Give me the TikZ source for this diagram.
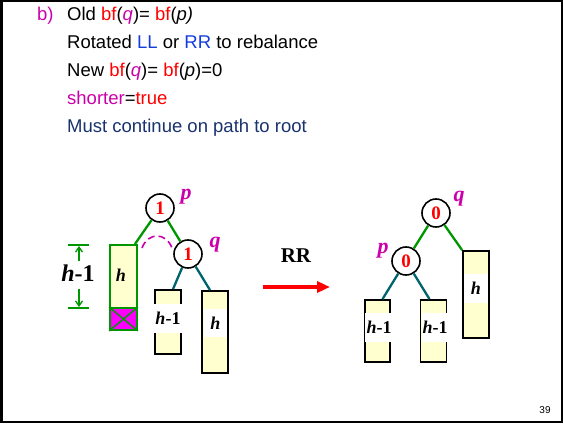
\documentclass[tikz,border=0pt]{standalone}
\usepackage{fontspec}
\setmainfont{Liberation Sans}
\newfontfamily\tms{Liberation Serif}
\usetikzlibrary{arrows.meta}
\definecolor{mag}{RGB}{204,0,170}
\definecolor{lblue}{RGB}{20,60,220}
\definecolor{navy}{RGB}{25,50,110}
\definecolor{grn}{RGB}{0,150,0}
\definecolor{teal2}{RGB}{0,100,110}
\definecolor{ylw}{RGB}{255,255,208}
\definecolor{brmag}{RGB}{255,0,255}
\begin{document}
\begin{tikzpicture}[x=1pt,y=-1pt,
  txt/.style={anchor=base west,inner sep=0,font=\fontsize{18.5}{22}\selectfont},
  circ/.style={circle,draw,line width=1.6pt,minimum size=28,inner sep=0,fill=white,text=red,font=\tms\bfseries\fontsize{19}{19}\selectfont},
  plab/.style={text=mag,inner sep=0,font=\tms\bfseries\itshape\fontsize{22}{22}\selectfont},
  tbox/.style={draw,line width=1.8pt,fill=ylw,inner sep=0},
  band/.style={fill=white,inner sep=0,font=\tms\bfseries\fontsize{18}{18}\selectfont},
  gedge/.style={draw=grn,line width=2.3pt},
  tedge/.style={draw=teal2,line width=2.3pt}]
\useasboundingbox (0,0) rectangle (563,425);
\draw[line width=2.5pt] (1.3,1.2) rectangle (562,422);
% text lines
\node[txt,text=mag] (tb) at (37,21) {b)};
\node[txt] (t1) at (67,21) {Old \textcolor{red}{bf}(\textcolor{mag}{\itshape q})= \textcolor{red}{bf}(\itshape p)};
\node[txt] (t2) at (67,49) {Rotated \textcolor{lblue}{LL} or \textcolor{lblue}{RR} to rebalance};
\node[txt] (t3) at (67,77) {New \textcolor{red}{bf}(\textcolor{mag}{\itshape q})= \textcolor{red}{bf}(\textit{p})=0};
\node[txt] (t4) at (67,105) {\textcolor{mag}{shorter}=\textcolor{red}{true}};
\node[txt,text=navy] (t5) at (67,133) {Must continue on path to root};
% left tree
\node[tbox,draw=grn,minimum width=27,minimum height=85] (L) at (123.5,287.5) {};
\node[tbox,draw=grn,fill=brmag,minimum width=27,minimum height=22] (Lx) at (123.5,319) {};
\draw[grn,line width=1.4pt] (Lx.north west) -- (Lx.south east) (Lx.north east) -- (Lx.south west);
\node[band,fill=none] (Lh) at (121,275) {\itshape h};
\node[tbox,minimum width=26,minimum height=64] (M) at (168,322) {};
\node[band,minimum width=31,minimum height=29] (Mh) at (168,318) {\textit{h}-1};
\node[tbox,minimum width=26,minimum height=82] (R) at (215,332) {};
\node[band,minimum width=23,minimum height=28] (Rh) at (215.5,323) {\itshape h};
\node[circ] (p1) at (160,208) {1};
\node[circ] (q1) at (188,254) {1};
\node[plab] (p1l) at (186,197) {p};
\node[plab] (q1l) at (215,245) {q};
\path[gedge] (p1) -- ([xshift=-3]L.north east);
\path[gedge] (p1) -- (q1);
\path[tedge] (q1) -- ([xshift=5]M.north);
\path[tedge] (q1) -- ([xshift=-5]R.north);
\coordinate (da) at (142,248);
\coordinate (db) at (172,248);
\draw[mag,line width=1.6pt,dash pattern=on 7pt off 4pt] (da) .. controls (148,232) and (166,232) .. (db);
% height marker
\coordinate (ht1) at (68,245); \coordinate (ht2) at (89,245);
\coordinate (hb1) at (68,308); \coordinate (hb2) at (89,308);
\draw[grn,line width=2pt] (ht1) -- (ht2) (hb1) -- (hb2);
\node[inner sep=0,font=\tms\bfseries\fontsize{24}{24}\selectfont] (hl) at (78,273) {\textit{h}-1};
\coordinate (ua) at (79,261); \coordinate (ub) at (79,246);
\coordinate (la) at (79,289); \coordinate (lb) at (79,307);
\draw[grn,line width=1.3pt,-{Straight Barb[length=5,width=7]}] (ua) -- (ub);
\draw[grn,line width=1.3pt,-{Straight Barb[length=5,width=7]}] (la) -- (lb);
% RR arrow
\node[inner sep=0,font=\tms\bfseries\fontsize{21}{21}\selectfont] (rr) at (296,256) {RR};
\coordinate (a1) at (263,287); \coordinate (a2) at (330,287);
\draw[red,line width=3.8pt,-{Triangle[length=13,width=11]}] (a1) -- (a2);
% right tree
\node[tbox,minimum width=26,minimum height=87] (R2) at (476,294.5) {};
\node[band,minimum width=24,minimum height=29] (R2h) at (476,288.5) {\itshape h};
\node[tbox,minimum width=25,minimum height=62] (LL) at (377.5,331) {};
\node[band,minimum width=29,minimum height=29] (LLh) at (379,327) {\textit{h}-1};
\node[tbox,minimum width=26,minimum height=62] (LM) at (433.5,331) {};
\node[band,minimum width=27,minimum height=29] (LMh) at (435,327) {\textit{h}-1};
\node[circ] (q2) at (436,213) {0};
\node[circ] (p2) at (406,261) {0};
\node[plab] (q2l) at (459,199) {q};
\node[plab] (p2l) at (383,251) {p};
\path[gedge] (q2) -- (p2);
\path[gedge] (q2) -- (R2.north west);
\path[tedge] (p2) -- ([xshift=5]LL.north);
\path[tedge] (p2) -- ([xshift=-4]LM.north);
\node[inner sep=0,font=\fontsize{10}{10}\selectfont] (pg) at (545,410) {39};
\end{tikzpicture}
\end{document}
